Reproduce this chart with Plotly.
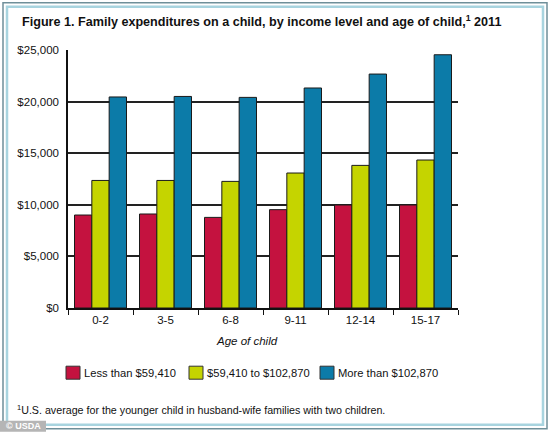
import plotly.graph_objects as go

ages = ["0-2", "3-5", "6-8", "9-11", "12-14", "15-17"]
low_income = [9010, 9110, 8780, 9530, 9980, 9980]
mid_income = [12360, 12360, 12270, 13080, 13820, 14340]
high_income = [20450, 20500, 20410, 21320, 22670, 24540]
series_names = ["Less than $59,410", "$59,410 to $102,870", "More than $102,870"]
y_ticks = [0, 5000, 10000, 15000, 20000, 25000]
y_tick_labels = ["$0", "$5,000", "$10,000", "$15,000", "$20,000", "$25,000"]

colors = ["#C4123F", "#C5D400", "#0C7BA8"]
legend_x = [66, 189, 320]  # pixel left edge of each legend swatch
FONT = "Liberation Sans, Arial, Helvetica, sans-serif"

W, H = 550, 432
L, R = 68, 458
T, B = 50.3, 308.3

def px(x):
    return (x - L) / (R - L)

def py(y):
    return (B - y) / (B - T)

fig = go.Figure()
for name, vals, c in zip(series_names, [low_income, mid_income, high_income], colors):
    fig.add_trace(go.Bar(
        x=ages, y=vals, name=name,
        marker=dict(color=c, line=dict(color="#1a1a1a", width=1)),
        hoverinfo="x+y+name",
    ))

shapes = [
    # outer frame
    dict(type="rect", xref="paper", yref="paper", x0=px(3), x1=px(547), y0=py(3), y1=py(429),
         line=dict(color="#6f8f99", width=1.5), fillcolor="rgba(0,0,0,0)", layer="below"),
    dict(type="rect", xref="paper", yref="paper", x0=px(7), x1=px(543), y0=py(7), y1=py(425),
         line=dict(color="#a8d4df", width=2.5), fillcolor="rgba(0,0,0,0)", layer="below"),
    # copyright badge
    dict(type="rect", xref="paper", yref="paper", x0=px(0), x1=px(46), y0=py(421), y1=py(432),
         line=dict(width=0), fillcolor="#b5b5b5", layer="above"),
]

annotations = [
    dict(text="<b>Figure 1. Family expenditures on a child, by income level and age of child,<sup>1</sup> 2011</b>",
         xref="paper", yref="paper", x=px(20), y=py(21), xanchor="left", yanchor="middle",
         showarrow=False, font=dict(family=FONT, size=12.6, color="#111")),
    dict(text="<i>Age of child</i>", xref="paper", yref="paper", x=px(247), y=py(341),
         xanchor="center", yanchor="middle", showarrow=False, font=dict(family=FONT, size=11.5, color="#111")),
    dict(text="<sup>1</sup>U.S. average for the younger child in husband-wife families with two children.",
         xref="paper", yref="paper", x=px(15), y=py(410), xanchor="left", yanchor="middle",
         showarrow=False, font=dict(family=FONT, size=10.7, color="#111")),
    dict(text="<b>© USDA</b>", xref="paper", yref="paper", x=px(23), y=py(426),
         xanchor="center", yanchor="middle", showarrow=False, font=dict(family=FONT, size=9, color="white")),
]

# legend: swatches + labels
for name, c, lx in zip(series_names, colors, legend_x):
    shapes.append(dict(type="rect", xref="paper", yref="paper",
                       x0=px(lx), x1=px(lx + 14), y0=py(379.5), y1=py(366.5),
                       line=dict(color="#333", width=1), fillcolor=c))
    annotations.append(dict(text=name, xref="paper", yref="paper", x=px(lx + 16), y=py(373),
                            xanchor="left", yanchor="middle", showarrow=False,
                            font=dict(family=FONT, size=11.2, color="#111")))

fig.update_layout(
    width=W, height=H,
    margin=dict(l=L, r=W - R, t=T, b=H - B, pad=0),
    paper_bgcolor="white", plot_bgcolor="white",
    barmode="group", bargap=0.2, bargroupgap=0,
    font=dict(family=FONT, size=11.5, color="#111"),
    showlegend=False,
    xaxis=dict(showline=True, linecolor="#111", linewidth=1.5, ticks="outside", tickson="boundaries",
               ticklen=5, tickcolor="#111", tickwidth=1.2, showgrid=False,
               tickfont=dict(family=FONT, size=11.5, color="#111")),
    yaxis=dict(range=[0, 25001], tickvals=y_ticks, ticktext=y_tick_labels,
               showline=True, linecolor="#111", linewidth=1.5, showgrid=True,
               gridcolor="#222222", gridwidth=1.5, zeroline=False, ticks="", ticklabelstandoff=5,
               tickfont=dict(family=FONT, size=11.5, color="#111")),
    shapes=shapes, annotations=annotations,
)

fig.write_html("out.html", config={"displayModeBar": False},
               post_script="document.body.style.margin='0';document.body.style.overflow='hidden';")
